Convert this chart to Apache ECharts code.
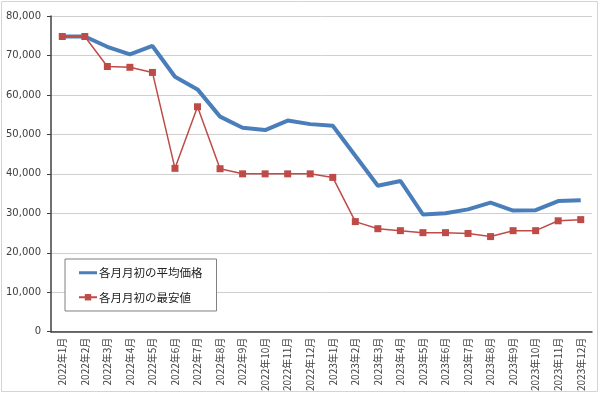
<!DOCTYPE html>
<html><head><meta charset="utf-8">
<script src="https://cdn.jsdelivr.net/npm/echarts@6/dist/echarts.min.js"></script>
<style>html,body{margin:0;padding:0;background:#fff}#c{width:600px;height:394px}</style>
</head><body><div id="c"></div>
<script>
const categories = ['2022年1月','2022年2月','2022年3月','2022年4月','2022年5月','2022年6月','2022年7月','2022年8月','2022年9月','2022年10月','2022年11月','2022年12月','2023年1月','2023年2月','2023年3月','2023年4月','2023年5月','2023年6月','2023年7月','2023年8月','2023年9月','2023年10月','2023年11月','2023年12月'];
const avgPrice = [74800,74800,72200,70300,72400,64600,61400,54500,51700,51100,53500,52600,52200,44600,37000,38200,29700,30000,31000,32700,30700,30800,33100,33300];
const minPrice = [74800,74800,67200,67000,65700,41400,57000,41300,40000,40000,40000,40000,39100,27900,26100,25600,25100,25100,24900,24100,25600,25600,28100,28400];
const seriesNames = ['各月月初の平均価格','各月月初の最安値'];
const yTicks = {min:0, max:80000, interval:10000};

const chart = echarts.init(document.getElementById('c'), null, {renderer:'canvas'});
chart.setOption({
  animation:false,
  backgroundColor:'#fff',
  graphic:[{type:'rect',shape:{x:1.5,y:1.5,width:596,height:390},style:{fill:'none',stroke:'#d4d4d4',lineWidth:1},silent:true}],
  grid:{left:51,right:8,top:16,bottom:62,containLabel:false},
  legend:{
    orient:'vertical',left:65,top:259,width:150,height:52,
    padding:[8,14,8,13],itemGap:13,itemWidth:18,itemHeight:8,
    borderColor:'#808080',borderWidth:1,backgroundColor:'#fff',
    textStyle:{fontSize:11.5,color:'#222',fontFamily:'"Noto Sans CJK JP", sans-serif',padding:[0,0,0,-3]},
    data:[{name:seriesNames[0],icon:'path://M0,0H18V3H0Z'},{name:seriesNames[1]}]
  },
  xAxis:{
    type:'category',data:categories,boundaryGap:true,
    axisLine:{lineStyle:{color:'#404040',width:1.5}},
    axisTick:{alignWithLabel:false,length:4,lineStyle:{color:'#404040'}},
    axisLabel:{rotate:90,interval:0,fontSize:10,color:'#404040',margin:6,fontFamily:'"Noto Sans CJK JP", sans-serif'},
    splitLine:{show:false}
  },
  yAxis:{
    type:'value',min:yTicks.min,max:yTicks.max,interval:yTicks.interval,
    axisLine:{show:true,lineStyle:{color:'#404040',width:1.5}},
    axisTick:{show:true,length:4,lineStyle:{color:'#404040'}},
    axisLabel:{fontSize:10,color:'#404040',margin:10,fontFamily:'"DejaVu Sans", sans-serif',
      formatter:v=>v.toLocaleString('en-US')},
    splitLine:{lineStyle:{color:'#cfcfcf',width:1}}
  },
  series:[
    {name:seriesNames[0],type:'line',data:avgPrice,symbol:'none',
     lineStyle:{color:'#4a7ebb',width:4},itemStyle:{color:'#4a7ebb'},z:2},
    {name:seriesNames[1],type:'line',data:minPrice,symbol:'rect',symbolSize:7,
     lineStyle:{color:'#be4b48',width:1.5},itemStyle:{color:'#be4b48'},z:3}
  ]
});
</script></body></html>
